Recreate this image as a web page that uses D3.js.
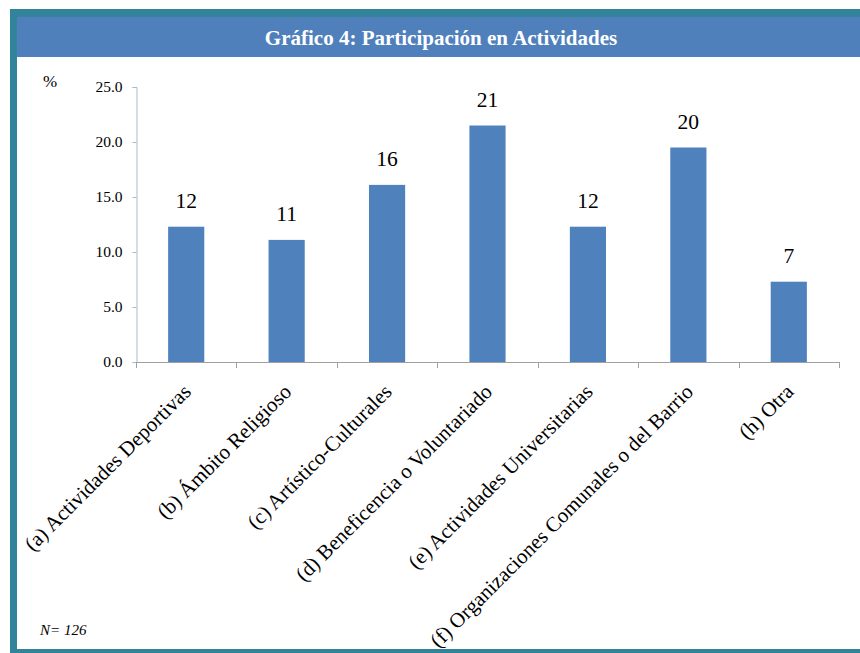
<!DOCTYPE html>
<html><head><meta charset="utf-8">
<script src="https://cdn.jsdelivr.net/npm/d3@7"></script>
<style>
body{margin:0;background:#fff;font-family:"Liberation Serif",serif}
svg{display:block}
svg text{font-family:"Liberation Serif",serif}
</style>
</head><body>
<script>
const categories = ["(a) Actividades Deportivas","(b) Ámbito Religioso","(c)  Artístico-Culturales","(d) Beneficencia o Voluntariado","(e) Actividades Universitarias","(f) Organizaciones Comunales o del Barrio","(h) Otra"];
const values = [12.3, 11.1, 16.1, 21.5, 12.3, 19.5, 7.3];
const labels = ["12","11","16","21","12","20","7"];
const yTicks = [0, 5, 10, 15, 20, 25];
const title = "Gráfico 4: Participación en Actividades";
const note = "N= 126";

const W = 860, H = 653;
const svg = d3.select("body").append("svg").attr("width", W).attr("height", H);
const FF = '"Liberation Serif", serif';
function serifText(sel){ return sel.style("font-family", FF); }

// frame
svg.append("rect").attr("x",0).attr("y",0).attr("width",W).attr("height",H).attr("fill","#fff");
svg.append("rect").attr("x",10).attr("y",9).attr("width",W-10).attr("height",H-9).attr("fill","#31849B");
svg.append("rect").attr("x",17).attr("y",17).attr("width",W-17).attr("height",632).attr("fill","#fff");
svg.append("rect").attr("x",17).attr("y",17).attr("width",W-17).attr("height",40).attr("fill","#4F80BC");
serifText(svg.append("text").attr("x",441).attr("y",45).attr("text-anchor","middle"))
  .style("font-weight","bold").style("font-size","21px").attr("fill","#fff").text(title);

const x = d3.scaleBand().domain(categories).range([136, 839]).paddingInner(0.64).paddingOuter(0.32);
const y = d3.scaleLinear().domain([0, 25]).range([362, 87]);

// y axis
const ya = svg.append("g").attr("transform","translate(136.5,0)")
  .call(d3.axisLeft(y).tickValues(yTicks).tickFormat(d3.format(".1f")).tickSize(4).tickPadding(10));
ya.attr("font-family", null).attr("font-size", null);
ya.select(".domain").attr("stroke","#A8B9CF");
ya.selectAll(".tick line").attr("stroke","#A8B9CF");
serifText(ya.selectAll("text")).style("font-size","15.5px").attr("fill","#000");

serifText(svg.append("text").attr("x",50).attr("y",87).attr("text-anchor","middle"))
  .style("font-size","17px").text("%");

// bars
svg.selectAll("rect.bar").data(values).enter().append("rect").attr("class","bar")
  .attr("x",(d,i)=>x(categories[i])).attr("width",x.bandwidth())
  .attr("y",d=>y(d)).attr("height",d=>y(0)-y(d)).attr("fill","#4F81BD");

serifText(svg.selectAll("text.val").data(values).enter().append("text").attr("class","val")
  .attr("x",(d,i)=>x(categories[i])+x.bandwidth()/2).attr("y",d=>y(d)-19)
  .attr("text-anchor","middle"))
  .style("font-size","21.5px").attr("fill","#000")
  .text((d,i)=>labels[i]);

// x axis
const boundaries = d3.range(categories.length+1).map(i => 136 + i*x.step());
svg.append("line").attr("x1",136).attr("x2",839).attr("y1",362.5).attr("y2",362.5).attr("stroke","#A0A0A0");
svg.selectAll("line.xt").data(boundaries).enter().append("line").attr("class","xt")
  .attr("x1",d=>Math.round(d)+0.5).attr("x2",d=>Math.round(d)+0.5).attr("y1",362).attr("y2",368).attr("stroke","#A0A0A0");

serifText(svg.selectAll("text.xl").data(categories).enter().append("text").attr("class","xl")
  .attr("transform",d=>`translate(${x(d)+x.bandwidth()/2+6},${393}) rotate(-45)`)
  .attr("text-anchor","end"))
  .style("font-size","21px").attr("fill","#000").text(d=>d);

serifText(svg.append("text").attr("x",40).attr("y",635))
  .style("font-style","italic").style("font-size","15px").text(note);
</script>
</body></html>
